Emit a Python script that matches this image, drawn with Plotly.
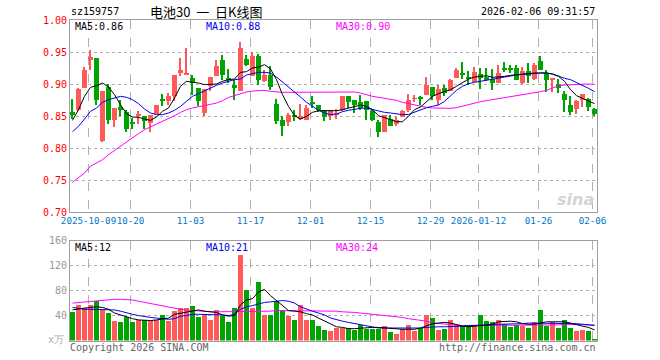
import plotly.graph_objects as go

# ---------------- data ----------------
dates_labels = ["2025-10-09", "10-20", "11-03", "11-17", "12-01", "12-15",
                "12-29", "2026-01-12", "01-26", "02-06"]
label_index = [3, 10, 20, 30, 40, 50, 60, 68, 78, 87]

opens = [.8557, .860, .8937, .937, .9411, .8104, .8953, .8432, .8635, .8568,
         .8395, .851, .85, .8391, .8536, .8766, .874, .8807, .9172, .9135,
         .9094, .8932, .8547, .8964, .912, .938, .9094, .8979, .8896, .9396,
         .912, .9432, .9042, .9146, .8693, .8432, .8401, .8521, .8453, .8443,
         .8714, .8677, .8599, .8505, .8521, .8599, .8807, .8755, .8714, .874,
         .8573, .8401, .8255, .8453, .837, .8484, .8599, .8766, .8787, .8833,
         .8953, .8745, .8937, .8885, .9094, .9162, .9099, .9026, .9162, .9104,
         .9078, .9016, .9238, .9238, .925, .9016, .9198, .9078, .9365, .9172,
         .9068, .9005, .8849, .8677, .8609, .8755, .8771, .8615]
highs = [.877, .893, .9266, .9536, .9411, .8896, .9005, .8625, .8755, .8599,
         .8469, .8573, .85, .8516, .8672, .8844, .886, .9146, .9406, .9568,
         .9146, .8932, .8922, .9115, .938, .9458, .9234, .9057, .9651, .9458,
         .9495, .9474, .9224, .9286, .8766, .8505, .8547, .8599, .8693, .8677,
         .8818, .8677, .8599, .8599, .8609, .8818, .8807, .8755, .8833, .874,
         .8599, .8443, .8521, .8521, .8484, .8599, .8849, .8833, .8818, .9104,
         .8953, .899, .899, .9078, .925, .9339, .9198, .9266, .925, .925,
         .9234, .9302, .9344, .9302, .9302, .9266, .9328, .9328, .9432, .9224,
         .9094, .9078, .8885, .8807, .8755, .8849, .8781, .8625]
lows = [.845, .858, .893, .9214, .8677, .8089, .837, .8328, .8505, .825,
        .8302, .8375, .8297, .8245, .8536, .8661, .8677, .8729, .913, .9135,
        .8833, .8661, .8505, .8885, .912, .9057, .9016, .8745, .8896, .9276,
        .912, .899, .9031, .8911, .8375, .8193, .8349, .8417, .8443, .8432,
        .8625, .8557, .8417, .8432, .8453, .8583, .8625, .8547, .8599, .8443,
        .8417, .8172, .8245, .8339, .8339, .8484, .8557, .8714, .8677, .8833,
        .8745, .8677, .8818, .8885, .9094, .9078, .899, .9026, .8922, .9042,
        .8901, .9016, .9182, .9172, .9057, .9005, .9016, .9068, .9224, .887,
        .887, .886, .8557, .8521, .8536, .864, .8573, .8505]
closes = [.8526, .8927, .9224, .9417, .8755, .8896, .8443, .8625, .8599, .8297,
          .838, .8525, .8427, .8516, .8672, .874, .8807, .9146, .9224, .9172,
          .9016, .8729, .8922, .9115, .9286, .9135, .9068, .8932, .9562, .9292,
          .9432, .9057, .9146, .8948, .8417, .8339, .8521, .8484, .8495, .8625,
          .8693, .8599, .8484, .8599, .8547, .8807, .8714, .8677, .8625, .8599,
          .8432, .8245, .8516, .8349, .8443, .8573, .8755, .878, .8776, .899,
          .8807, .8922, .8859, .9057, .9214, .9156, .909, .9182, .9094, .9068,
          .9016, .9172, .9234, .9234, .9057, .9198, .912, .9302, .9224, .9068,
          .9084, .8937, .8755, .8557, .8729, .8849, .8635, .8536]

ma5 = [.8432, .8599, .8807, .8948, .8974, .9016, .8953, .8833, .8677, .8536,
       .8484, .8479, .8453, .8432, .8484, .8573, .8625, .8781, .8964, .9042,
       .9026, .9016, .899, .899, .9, .9042, .9068, .9078, .9182, .9193,
       .925, .9266, .9302, .9234, .9068, .8833, .8651, .8505, .8453, .8495,
       .8557, .8583, .8583, .8583, .8583, .8599, .8625, .8651, .8672, .8651,
       .8599, .8505, .8479, .8443, .8411, .8411, .8495, .8599, .8641, .8729,
       .8807, .8849, .8885, .8911, .8964, .9026, .9078, .9109, .912, .913,
       .9104, .9109, .912, .9135, .9146, .9161, .9172, .9172, .9172, .9172,
       .9156, .912, .9042, .8911, .8818, .8776, .8745, .8693]
ma10 = [.8255, .8339, .8453, .8573, .8625, .8714, .8755, .8786, .8807, .8792,
        .8755, .8693, .8609, .8547, .8521, .8521, .8547, .8589, .8651, .8729,
        .8807, .8849, .8896, .8937, .8979, .9016, .9042, .9068, .9078, .9141,
        .9161, .9182, .9182, .9172, .9109, .9031, .8964, .8885, .8797, .8714,
        .8651, .8589, .8547, .8521, .8531, .8568, .8589, .8609, .862, .8625,
        .8599, .8573, .8557, .8547, .8536, .8521, .8525, .856, .8599, .863,
        .8651, .8672, .8729, .8818, .8901, .8964, .9005, .9026, .9042, .9057,
        .9073, .9089, .9115, .913, .9141, .9151, .9161, .9167, .9172, .9172,
        .9156, .9125, .9089, .9068, .9026, .8984, .8932, .888]
ma30 = [.7464, .7531, .7609, .7714, .7766, .7818, .7896, .7964, .8026, .8089,
        .8156, .8224, .8286, .8328, .838, .8417, .8453, .8505, .8557, .8599,
        .8625, .8641, .8661, .8682, .8703, .874, .879, .882, .885, .8875,
        .889, .8901, .8901, .8885, .8875, .887, .887, .887, .887, .8875,
        .8875, .8875, .888, .888, .888, .888, .888, .8875, .8859, .8828,
        .8807, .8792, .8776, .8766, .8745, .8714, .8693, .8667, .8651, .8635,
        .8625, .862, .8615, .862, .863, .8656, .8682, .8703, .8724, .874,
        .8755, .8771, .8786, .8797, .8813, .8828, .8849, .8865, .888, .8901,
        .8937, .8974, .8984, .899, .899, .8995, .9, .8995]

volume = [46, 57, 52, 57, 64, 50, 44, 32, 30, 38,
          30, 34, 34, 33, 33, 42, 32, 48, 53, 53,
          55, 38, 42, 34, 50, 40, 30, 53, 137, 81,
          53, 95, 41, 41, 64, 50, 39, 33, 57, 33,
          33, 23, 18, 15, 20, 20, 21, 17, 26, 19,
          19, 19, 23, 14, 11, 19, 26, 16, 20, 42,
          36, 18, 19, 33, 25, 24, 24, 25, 41, 32,
          30, 34, 27, 22, 25, 23, 20, 30, 49, 24,
          30, 21, 33, 20, 15, 17, 16, 2.4]
vol_ma5 = [49, 51, 52, 53, 54, 53, 50, 44, 41, 37,
           35, 33, 32, 32, 33, 34, 36, 42, 44, 46,
           48, 49, 47, 46, 45, 41, 39, 40, 57, 65,
           67, 78, 82, 72, 64, 55, 48, 47, 46, 43,
           41, 36, 31, 26, 22, 21, 19, 19, 20, 20,
           21, 21, 20, 19, 18, 18, 18, 18, 20, 23,
           27, 28, 29, 28, 25, 23, 22, 23, 25, 26,
           26, 30, 31, 31, 30, 27, 26, 26, 28, 30,
           30, 30, 30, 28, 25, 23, 21, 17]
vol_ma10 = [53, 51, 50, 50, 50, 50, 50, 49, 47, 44,
            42, 40, 38, 37, 36, 35, 34, 35, 39, 40,
            42, 42, 42, 42, 42, 41, 40, 42, 50, 54,
            56, 59, 61, 62, 63, 64, 63, 60, 54, 50,
            47, 44, 41, 36, 33, 31, 29, 27, 25, 23,
            21, 20, 20, 20, 20, 19, 19, 19, 20, 21,
            22, 22, 22, 22, 22, 23, 24, 24, 25, 25,
            25, 26, 26, 26, 27, 27, 28, 28, 28, 28,
            28, 28, 28, 27, 27, 26, 25, 24]
vol_ma30 = [60, 61, 62, 63, 64, 65, 66, 66, 66, 66,
            65, 63, 61, 59, 57, 55, 53, 51, 50, 49,
            48, 47, 47, 46, 46, 46, 46, 46, 46, 47,
            47, 47, 47, 47, 48, 48, 48, 48, 48, 47,
            47, 47, 47, 47, 47, 46, 46, 45, 44, 43,
            43, 42, 41, 40, 39, 37, 35, 34, 33, 31,
            28, 27, 26, 25, 25, 24, 24, 24, 24, 24,
            24, 24, 24, 24, 24, 24, 24, 24, 24, 25,
            25, 25, 26, 26, 26, 26, 26, 25]

price_ticks = [0.70, 0.75, 0.80, 0.85, 0.90, 0.95, 1.00]
vol_ticks = [40, 80, 120, 160]

# ---------------- styling ----------------
W, H = 660, 360
RED = "#ff5a5a"
GREEN = "#00a400"
MONO = "DejaVu Sans Mono"
GRID = "#b0b0b0"
BOX = "#a0a0a0"

n = len(closes)
idx = list(range(n))
colors = [RED if c >= o else GREEN for o, c in zip(opens, closes)]
body_base = [min(o, c) for o, c in zip(opens, closes)]
body_h = [max(abs(c - o), 0.0007) for o, c in zip(opens, closes)]
wick_h = [h - l for h, l in zip(highs, lows)]

fig = go.Figure()

# candle wicks
fig.add_trace(go.Bar(x=idx, y=wick_h, base=lows, width=0.17,
                     marker=dict(color=colors, line=dict(width=0)),
                     xaxis="x", yaxis="y", showlegend=False, hoverinfo="skip"))
# candle bodies
fig.add_trace(go.Bar(x=idx, y=body_h, base=body_base, width=0.82,
                     marker=dict(color=colors, line=dict(width=0)),
                     xaxis="x", yaxis="y", showlegend=False))
# price MAs
for arr, col in [(ma30, "#ff00ff"), (ma10, "#0000ee"), (ma5, "#000000")]:
    fig.add_trace(go.Scatter(x=idx, y=arr, mode="lines",
                             line=dict(color=col, width=1),
                             xaxis="x", yaxis="y", showlegend=False))

# volume bars
fig.add_trace(go.Bar(x=idx, y=volume, width=0.82,
                     marker=dict(color=colors, line=dict(width=0)),
                     xaxis="x2", yaxis="y2", showlegend=False))
for arr, col in [(vol_ma30, "#ff00ff"), (vol_ma10, "#0000ee"), (vol_ma5, "#000000")]:
    fig.add_trace(go.Scatter(x=idx, y=arr, mode="lines",
                             line=dict(color=col, width=1),
                             xaxis="x2", yaxis="y2", showlegend=False))

x0, x1 = 70, 597
xr = [-2.5 / 6, n - 1 + 2.5 / 6]
grid_x = [i - 0.33 for i in label_index]

def py(p):
    return 1 - p / H

common_x = dict(range=xr, tickmode="array", tickvals=grid_x,
                showgrid=True, gridcolor=GRID, griddash="dash", gridwidth=1,
                showline=True, linecolor=BOX, linewidth=1, mirror=True,
                ticks="", zeroline=False, fixedrange=True, automargin=False,
                tickangle=0)

fig.update_layout(
    width=W, height=H,
    margin=dict(l=0, r=0, t=0, b=0, autoexpand=False),
    paper_bgcolor="white", plot_bgcolor="white",
    barmode="overlay", bargap=0,
    showlegend=False,
    xaxis=dict(domain=[x0 / W, x1 / W], anchor="y", ticktext=dates_labels,
               tickfont=dict(family=MONO, size=9.2, color="#0078c8"),
               **common_x),
    xaxis2=dict(domain=[x0 / W, x1 / W], anchor="y2", showticklabels=False,
                **common_x),
    yaxis=dict(domain=[py(212), py(20)], range=[0.70, 1.00],
               tickmode="array", tickvals=price_ticks,
               ticktext=[f"{v:.2f}" for v in price_ticks],
               tickfont=dict(family=MONO, size=10, color="#ff0000"),
               showgrid=True, gridcolor=GRID, griddash="dot", gridwidth=1,
               showline=True, linecolor=BOX, linewidth=1, mirror=True,
               ticks="", zeroline=False, anchor="x", fixedrange=True,
               automargin=False),
    yaxis2=dict(domain=[py(340.5), py(240.7)], range=[0, 160],
                tickmode="array", tickvals=vol_ticks,
                ticktext=[str(v) for v in vol_ticks],
                tickfont=dict(family=MONO, size=10, color="#999999"),
                showgrid=True, gridcolor=GRID, griddash="dot", gridwidth=1,
                showline=True, linecolor=BOX, linewidth=1, mirror=True,
                ticks="", zeroline=False, anchor="x2", fixedrange=True,
                automargin=False),
)

def ann(text, x, y, color="#000000", size=10, family=MONO, xanchor="left"):
    fig.add_annotation(text=text, x=x / W, y=py(y), xref="paper", yref="paper",
                       showarrow=False, xanchor=xanchor, yanchor="middle",
                       font=dict(family=family, size=size, color=color))

NB = "\u00a0"
ann("sz159757", 69, 12)
ann("电池30" + NB * 2 + "一" + NB * 2 + "日K线图", 206, 11.5, size=13,
    family="Noto Sans CJK SC", xanchor="center")
ann("2026-02-06 09:31:57", 597, 12, xanchor="right")

ann(f"MA5:{0.86:.2f}", 73, 27)
ann(f"MA10:{0.88:.2f}", 204, 27, color="#0000ee")
ann(f"MA30:{0.90:.2f}", 334, 27, color="#ff00ff")

ann("MA5:12", 73, 247)
ann("MA10:21", 204, 247, color="#0000ee")
ann("MA30:24", 334, 247, color="#ff00ff")

ann("x万", 66, 339, color="#aaaaaa", xanchor="right")
ann("Copyright 2026 SINA.COM", 68, 347, color="#666666")
ann("http://finance.sina.com.cn", 598, 347, color="#666666", xanchor="right")

ann("<b><i>sina</i></b>", 596, 199, color="#d4d4d4", size=16,
    family="DejaVu Sans", xanchor="right")

fig.write_html("out.html", config={"displayModeBar": False},
               post_script="document.body.style.margin='0';document.body.style.padding='0';")
